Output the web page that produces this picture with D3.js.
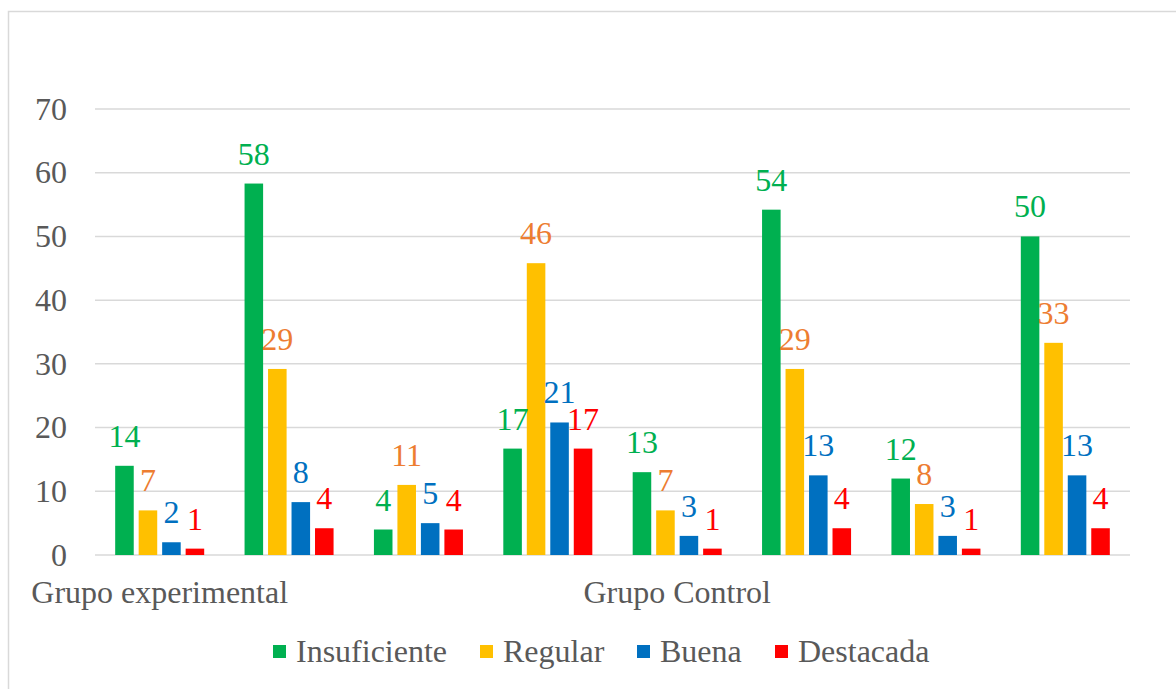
<!DOCTYPE html>
<html>
<head>
<meta charset="utf-8">
<script src="https://cdn.jsdelivr.net/npm/d3@7"></script>
</head>
<body style="margin:0">
<script>
// data
const groups = ["g1", "g2", "g3", "g4", "g5", "g6", "g7", "g8"];
const groupLabels = ["Grupo experimental", "", "", "", "Grupo Control", "", "", ""];
const series = ["Insuficiente", "Regular", "Buena", "Destacada"];
const insuficiente = [14, 58.3, 4, 16.7, 13, 54.2, 12, 50];
const regular = [7, 29.2, 11, 45.8, 7, 29.2, 8, 33.3];
const buena = [2, 8.3, 5, 20.8, 3, 12.5, 3, 12.5];
const destacada = [1, 4.2, 4, 16.7, 1, 4.2, 1, 4.2];
const yTicks = [0, 10, 20, 30, 40, 50, 60, 70];

const barColors = ["#00B050", "#FFC000", "#0070C0", "#FF0000"];
const labelColors = ["#00B050", "#ED7D31", "#0070C0", "#FF0000"];

const width = 1176;
const height = 689;
const plot = {left: 95, right: 1130, top: 109, bottom: 555};
const serif = "'Liberation Serif'";
const fs = 32;

const svg = d3.select("body")
  .append("svg")
  .attr("width", width)
  .attr("height", height);

// outer frame (only top/left visible)
svg.append("rect")
  .attr("x", 8.5).attr("y", 11.5)
  .attr("width", 1220).attr("height", 720)
  .attr("fill", "none")
  .attr("stroke", "#D9D9D9")
  .attr("stroke-width", 1.5);

const y = d3.scaleLinear().domain([0, 70]).range([plot.bottom, plot.top]);

const x0 = d3.scaleBand()
  .domain(groups)
  .range([plot.left, plot.right])
  .paddingInner(0.312)
  .paddingOuter(0.156);

const x1 = d3.scaleBand()
  .domain(series)
  .range([0, x0.bandwidth()])
  .paddingInner(0.21);

// grid
svg.append("g")
  .selectAll("line")
  .data(yTicks)
  .join("line")
  .attr("x1", plot.left).attr("x2", plot.right)
  .attr("y1", d => y(d)).attr("y2", d => y(d))
  .attr("stroke", "#D9D9D9")
  .attr("stroke-width", 1.5);

// y axis labels
const yAxis = svg.append("g")
  .attr("transform", `translate(${plot.left},0)`)
  .call(d3.axisLeft(y).tickValues(yTicks).tickSize(0).tickPadding(28));
yAxis.attr("font-family", serif).attr("font-size", fs);
yAxis.select(".domain").remove();
yAxis.selectAll("text")
  .attr("font-family", serif)
  .attr("fill", "#595959");

const rows = groups.map((g, i) => ({
  group: g,
  values: [insuficiente[i], regular[i], buena[i], destacada[i]]
}));

const gGroups = svg.append("g")
  .selectAll("g")
  .data(rows)
  .join("g")
  .attr("transform", d => `translate(${x0(d.group)},0)`);

gGroups.selectAll("rect")
  .data(d => d.values.map((v, j) => ({key: series[j], v, j})))
  .join("rect")
  .attr("x", d => x1(d.key))
  .attr("width", x1.bandwidth())
  .attr("y", d => y(d.v))
  .attr("height", d => y(0) - y(d.v))
  .attr("fill", d => barColors[d.j]);

gGroups.selectAll("text")
  .data(d => d.values.map((v, j) => ({key: series[j], v, j})))
  .join("text")
  .attr("x", d => x1(d.key) + x1.bandwidth() / 2)
  .attr("y", d => y(d.v) - 19)
  .attr("text-anchor", "middle")
  .attr("fill", d => labelColors[d.j])
  .attr("font-family", serif)
  .attr("font-size", fs)
  .text(d => d3.format(".0f")(d.v));

// category labels
svg.append("g")
  .selectAll("text")
  .data(groups)
  .join("text")
  .attr("x", d => x0(d) + x0.bandwidth() / 2)
  .attr("y", 603)
  .attr("text-anchor", "middle")
  .attr("fill", "#595959")
  .attr("font-family", serif)
  .attr("font-size", fs)
  .text((d, i) => groupLabels[i]);

// legend
const legendX = [273, 480, 637, 775];
const legend = svg.append("g")
  .selectAll("g")
  .data(series)
  .join("g")
  .attr("transform", (d, i) => `translate(${legendX[i]},645)`);
legend.append("rect")
  .attr("width", 13).attr("height", 13)
  .attr("fill", (d, i) => barColors[i]);
legend.append("text")
  .attr("x", 23)
  .attr("y", 16.5)
  .attr("fill", "#595959")
  .attr("font-family", serif)
  .attr("font-size", fs)
  .text(d => d);
</script>
</body>
</html>
